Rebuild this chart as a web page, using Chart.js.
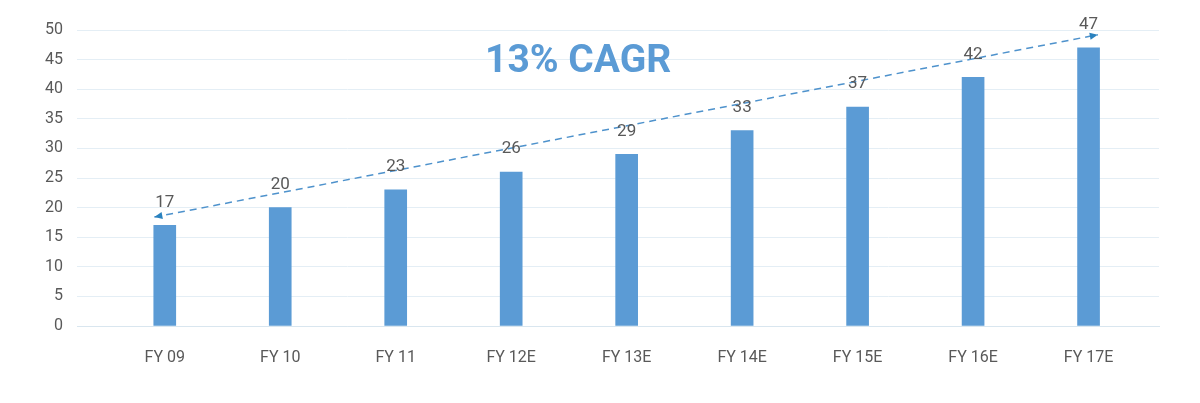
<!DOCTYPE html>
<html>
<head>
<meta charset="utf-8">
<script src="https://cdn.jsdelivr.net/npm/chart.js@4"></script>
<style>
  html, body { margin: 0; padding: 0; background: #fff; }
  #wrap { width: 1200px; height: 403px; }
</style>
</head>
<body>
<div id="wrap"><canvas id="cagrChart" width="1200" height="403"></canvas></div>
<script>
const categories = ["FY 09", "FY 10", "FY 11", "FY 12E", "FY 13E", "FY 14E", "FY 15E", "FY 16E", "FY 17E"];
const revenue = [17, 20, 23, 26, 29, 33, 37, 42, 47];
const yTicks = [0, 5, 10, 15, 20, 25, 30, 35, 40, 45, 50];
// trend arrow ends, in axis units (x = category index, y = value)
const arrowStart = [-0.09, 18.4];
const arrowEnd = [8.08, 49.2];
const cagrText = "13% CAGR";
const cagrAt = [3.58, 44.6];

const blue = "#5b9bd5";
const textGrey = "#595959";

// value labels above bars, arrowheads, big title
const overlay = {
  id: "overlay",
  afterDatasetsDraw(chart) {
    const { ctx, scales: { x, y } } = chart;
    ctx.save();

    // arrowheads on the trend line
    const p0 = [x.getPixelForValue(arrowStart[0]), y.getPixelForValue(arrowStart[1])];
    const p1 = [x.getPixelForValue(arrowEnd[0]), y.getPixelForValue(arrowEnd[1])];
    const ang = Math.atan2(p1[1] - p0[1], p1[0] - p0[0]);
    ctx.fillStyle = "#2a82bf";
    [[p1, ang], [p0, ang + Math.PI]].forEach(([p, a]) => {
      ctx.beginPath();
      ctx.moveTo(p[0], p[1]);
      ctx.lineTo(p[0] - 8 * Math.cos(a) + 3.5 * Math.sin(a), p[1] - 8 * Math.sin(a) - 3.5 * Math.cos(a));
      ctx.lineTo(p[0] - 8 * Math.cos(a) - 3.5 * Math.sin(a), p[1] - 8 * Math.sin(a) + 3.5 * Math.cos(a));
      ctx.closePath();
      ctx.fill();
    });

    // bar values
    ctx.fillStyle = textGrey;
    ctx.font = "17px Roboto";
    ctx.textAlign = "center";
    ctx.textBaseline = "middle";
    chart.getDatasetMeta(0).data.forEach((bar, i) => {
      ctx.fillText(revenue[i], bar.x, bar.y - 23);
    });

    // CAGR title
    ctx.fillStyle = blue;
    ctx.font = "bold 39px Roboto";
    ctx.fillText(cagrText, x.getPixelForValue(cagrAt[0]), y.getPixelForValue(cagrAt[1]));
    ctx.restore();
  }
};

new Chart(document.getElementById("cagrChart"), {
  data: {
    datasets: [
      {
        type: "bar",
        data: revenue.map((v, i) => ({ x: i, y: v })),
        backgroundColor: blue,
        barThickness: 22,
        order: 2
      },
      {
        type: "line",
        data: [{ x: arrowStart[0], y: arrowStart[1] }, { x: arrowEnd[0], y: arrowEnd[1] }],
        borderColor: "#4e92cc",
        borderWidth: 1.5,
        borderDash: [7, 5],
        pointRadius: 0,
        order: 1
      }
    ]
  },
  plugins: [overlay],
  options: {
    responsive: false,
    animation: false,
    layout: { padding: { top: 30, right: 41, bottom: 0, left: 0 } },
    plugins: { legend: { display: false }, tooltip: { enabled: false } },
    scales: {
      x: {
        type: "linear",
        offset: false,
        min: -0.76,
        max: 8.61,
        afterBuildTicks: (s) => { s.ticks = categories.map((c, i) => ({ value: i })); },
        afterFit: (s) => { s.height = 77; },
        ticks: {
          callback: (v) => categories[v],
          color: textGrey,
          font: { family: "Roboto", size: 16 },
          padding: 14,
          maxRotation: 0,
          autoSkip: false
        },
        grid: { display: false, offset: false },
        border: { color: "#d9e6ef", width: 1 }
      },
      y: {
        min: 0,
        max: 50,
        afterBuildTicks: (s) => { s.ticks = yTicks.map(v => ({ value: v })); },
        afterFit: (s) => { s.width = 77; },
        ticks: {
          color: textGrey,
          font: { family: "Roboto", size: 16 },
          padding: 14
        },
        grid: { color: "#e4eef5", drawTicks: false },
        border: { display: false }
      }
    }
  }
});
</script>
</body>
</html>
